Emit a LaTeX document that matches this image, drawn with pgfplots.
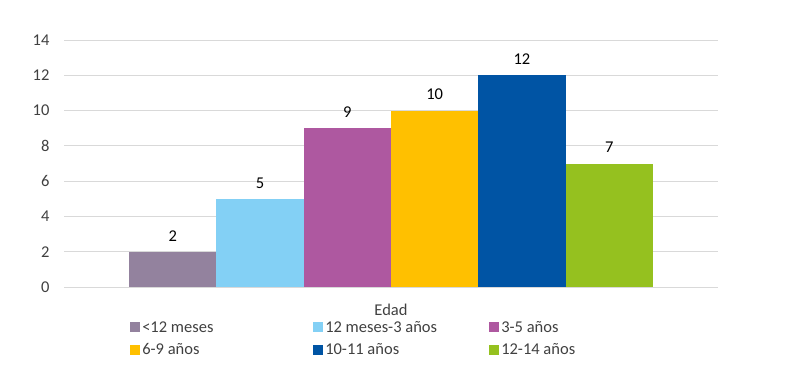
\documentclass[border=0pt]{standalone}
\usepackage{pgfplots}
\pgfplotsset{compat=1.18}
\usepackage{fontspec}
\setmainfont{Carlito}
\definecolor{cA}{RGB}{147,130,158}
\definecolor{cB}{RGB}{131,208,245}
\definecolor{cC}{RGB}{174,88,160}
\definecolor{cD}{RGB}{255,192,0}
\definecolor{cE}{RGB}{0,84,164}
\definecolor{cF}{RGB}{149,193,31}
\definecolor{gridgray}{RGB}{217,217,217}
\definecolor{txt}{RGB}{64,64,64}
\newcommand{\fs}{\fontsize{16.5}{19}\selectfont}
\begin{document}
\begin{tikzpicture}
\useasboundingbox (0,0) rectangle (800pt,375pt);
\begin{axis}[
  at={(64pt,88pt)}, anchor=south west,
  scale only axis, width=654pt, height=247pt,
  ymin=0, ymax=14, ytick={0,2,...,14},
  xmin=-1, xmax=1, xtick=\empty,
  axis line style={draw=none},
  ymajorgrids, grid style={color=gridgray, line width=0.9pt},
  major tick length=0pt,
  /pgf/number format/assume math mode=true,
  yticklabel style={font=\fs, color=txt, xshift=-11pt},
  ybar=0pt, bar width=87.3pt,
  nodes near coords,
  every node near coord/.append style={font=\fs, color=black, yshift=7pt},
  xlabel={Edad},
  xlabel style={at={(axis description cs:0.5,0)}, anchor=center, yshift=-23pt, font=\fs, color=txt},
  legend columns=3,
  legend cell align=left,
  legend image code/.code={\fill[#1] (0pt,-5pt) rectangle (10pt,5pt);},
  legend style={draw=none, fill=none, inner sep=0pt, font=\fs, text=txt,
    at={(axis description cs:0.101,0)}, anchor=north west, yshift=-32pt,
    row sep=6pt, column sep=0pt},
]
\addplot[draw=none, fill=cA] coordinates {(0,2)};
\addplot[draw=none, fill=cB] coordinates {(0,5)};
\addplot[draw=none, fill=cC] coordinates {(0,9)};
\addplot[draw=none, fill=cD] coordinates {(0,10)};
\addplot[draw=none, fill=cE] coordinates {(0,12)};
\addplot[draw=none, fill=cF] coordinates {(0,7)};
\addlegendentry{\makebox[169pt][l]{<12 meses}}
\addlegendentry{\makebox[162pt][l]{12 meses-3 años}}
\addlegendentry{3-5 años}
\addlegendentry{\makebox[169pt][l]{6-9 años}}
\addlegendentry{\makebox[162pt][l]{10-11 años}}
\addlegendentry{12-14 años}
\end{axis}
\end{tikzpicture}
\end{document}
